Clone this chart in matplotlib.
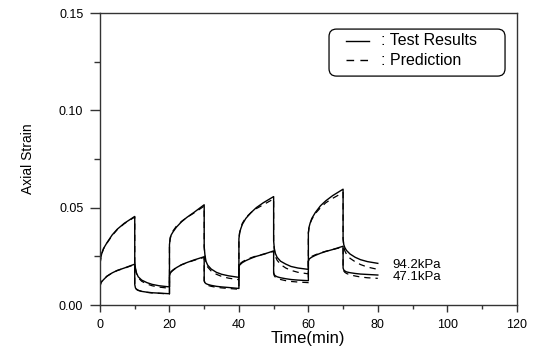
import matplotlib
matplotlib.use("Agg")
import matplotlib.pyplot as plt
import numpy as np
from matplotlib.lines import Line2D
from matplotlib.patches import FancyBboxPatch
from matplotlib.ticker import MultipleLocator, FormatStrFormatter

plt.rcParams['font.family'] = ['Liberation Sans', 'DejaVu Sans']

# time offsets inside each 10-min load / unload stage
offsets = [0, 0.2, 0.5, 1, 2, 3.5, 5, 7, 10]
stage_starts = [0, 10, 20, 30, 40, 50, 60, 70]

# 94.2 kPa, test results (one row per stage)
test_94 = [
    [0.021, 0.024, 0.0265, 0.029, 0.032, 0.036, 0.039, 0.042, 0.0455],
    [0.022, 0.019, 0.0165, 0.0145, 0.0128, 0.0115, 0.0106, 0.0099, 0.0093],
    [0.031, 0.034, 0.036, 0.0375, 0.040, 0.0428, 0.045, 0.0475, 0.0515],
    [0.030, 0.026, 0.0225, 0.0205, 0.0185, 0.0168, 0.0158, 0.015, 0.0142],
    [0.034, 0.037, 0.039, 0.0415, 0.0445, 0.0475, 0.050, 0.0525, 0.0557],
    [0.033, 0.029, 0.0265, 0.0245, 0.0225, 0.021, 0.0198, 0.019, 0.0183],
    [0.037, 0.040, 0.042, 0.0445, 0.0475, 0.051, 0.0535, 0.0562, 0.0595],
    [0.034, 0.031, 0.0295, 0.028, 0.0262, 0.0245, 0.0233, 0.0223, 0.0214],
]
# 94.2 kPa, prediction
pred_94 = [
    [0.021, 0.0238, 0.0263, 0.0288, 0.0318, 0.0357, 0.0388, 0.0418, 0.0452],
    [0.022, 0.0185, 0.016, 0.014, 0.0122, 0.0108, 0.0099, 0.0092, 0.0086],
    [0.031, 0.0345, 0.0365, 0.038, 0.0405, 0.043, 0.045, 0.0472, 0.0508],
    [0.030, 0.025, 0.0215, 0.0195, 0.0175, 0.0158, 0.0147, 0.0138, 0.013],
    [0.034, 0.037, 0.0395, 0.042, 0.045, 0.0475, 0.0495, 0.0515, 0.0545],
    [0.033, 0.028, 0.025, 0.023, 0.0208, 0.019, 0.0178, 0.0168, 0.016],
    [0.037, 0.040, 0.042, 0.044, 0.047, 0.050, 0.0525, 0.0548, 0.0578],
    [0.034, 0.030, 0.0278, 0.026, 0.024, 0.0222, 0.0208, 0.0195, 0.0183],
]
# 47.1 kPa, test results
test_47 = [
    [0.0095, 0.011, 0.012, 0.013, 0.0148, 0.0165, 0.0178, 0.019, 0.021],
    [0.0105, 0.0088, 0.008, 0.0075, 0.007, 0.0066, 0.0063, 0.0061, 0.0058],
    [0.015, 0.0162, 0.017, 0.0178, 0.0192, 0.0207, 0.0218, 0.0231, 0.0248],
    [0.0125, 0.0115, 0.011, 0.0106, 0.0101, 0.0096, 0.0093, 0.009, 0.0085],
    [0.0195, 0.0205, 0.021, 0.0218, 0.0228, 0.024, 0.025, 0.026, 0.0278],
    [0.0165, 0.0155, 0.015, 0.0145, 0.014, 0.0135, 0.0131, 0.0128, 0.0125],
    [0.0225, 0.0235, 0.024, 0.0246, 0.0255, 0.0266, 0.0275, 0.0285, 0.0302],
    [0.019, 0.018, 0.0175, 0.017, 0.0166, 0.0162, 0.0159, 0.0157, 0.0154],
]
# 47.1 kPa, prediction
pred_47 = [
    [0.0095, 0.0112, 0.0122, 0.0132, 0.0148, 0.0165, 0.0177, 0.0189, 0.0208],
    [0.0105, 0.009, 0.0082, 0.0076, 0.007, 0.0065, 0.0062, 0.006, 0.0057],
    [0.015, 0.0165, 0.0172, 0.018, 0.0193, 0.0207, 0.0217, 0.0229, 0.0245],
    [0.0125, 0.0112, 0.0106, 0.0101, 0.0096, 0.0091, 0.0088, 0.0085, 0.0081],
    [0.0195, 0.0208, 0.0215, 0.0222, 0.0232, 0.0243, 0.0252, 0.0261, 0.0275],
    [0.0165, 0.015, 0.0143, 0.0137, 0.0131, 0.0125, 0.0121, 0.0118, 0.0115],
    [0.0225, 0.0238, 0.0244, 0.025, 0.0258, 0.0268, 0.0276, 0.0285, 0.0298],
    [0.019, 0.0175, 0.0168, 0.0162, 0.0155, 0.0149, 0.0144, 0.014, 0.0137],
]

curve_labels = ['94.2kPa', '47.1kPa']
legend_labels = [': Test Results', ': Prediction']


def stitch(rows):
    t = np.concatenate([s + np.array(offsets) for s in stage_starts])
    y = np.concatenate([np.array(r) for r in rows])
    return t, y


fig = plt.figure(figsize=(5.36, 3.47), dpi=100)
ax = fig.add_axes([0.1866, 0.121, 0.7774, 0.8415])

dash = (0, (5, 4))
for rows in (test_94, test_47):
    t, y = stitch(rows)
    ax.plot(t, y, color='black', lw=1.0, ls='-')
for rows in (pred_94, pred_47):
    t, y = stitch(rows)
    ax.plot(t, y, color='black', lw=0.9, ls=dash)

ax.set_xlim(0, 120)
ax.set_ylim(0, 0.15)
ax.xaxis.set_major_locator(MultipleLocator(20))
ax.xaxis.set_minor_locator(MultipleLocator(10))
ax.yaxis.set_major_locator(MultipleLocator(0.05))
ax.yaxis.set_minor_locator(MultipleLocator(0.025))
ax.yaxis.set_major_formatter(FormatStrFormatter('%.2f'))
ax.tick_params(which='both', direction='out', labelsize=9, color='#333333', width=1)
ax.tick_params(axis='x', which='major', length=5, pad=5)
ax.tick_params(axis='x', which='minor', length=3)
ax.tick_params(axis='y', which='major', length=7, pad=5)
ax.tick_params(axis='y', which='minor', length=4)
for sp in ax.spines.values():
    sp.set_color('#333333')
    sp.set_linewidth(1)

ax.set_xlabel('Time(min)', fontsize=12, labelpad=0)
ax.set_ylabel('Axial Strain', fontsize=10, labelpad=17)

ax.text(84.2, 0.0205, curve_labels[0], fontsize=9.5, va='center')
ax.text(84.2, 0.0142, curve_labels[1], fontsize=9.5, va='center')

# legend box drawn in axes fraction
asp = 416.7 / 292.0
box = FancyBboxPatch((0.5496, 0.784), 0.4224, 0.161, transform=ax.transAxes,
                     boxstyle='round,pad=0,rounding_size=0.018',
                     mutation_aspect=asp, facecolor='white',
                     edgecolor='black', lw=0.9, zorder=5)
ax.add_patch(box)
ax.add_line(Line2D([0.590, 0.645], [0.905, 0.905], transform=ax.transAxes,
                   color='black', lw=1.0, zorder=6))
ax.add_line(Line2D([0.590, 0.645], [0.839, 0.839], transform=ax.transAxes,
                   color='black', lw=1.0, ls=(0, (5.5, 4.5)), zorder=6))
ax.text(0.674, 0.905, legend_labels[0], transform=ax.transAxes, fontsize=11.5,
        va='center', zorder=6)
ax.text(0.674, 0.839, legend_labels[1], transform=ax.transAxes, fontsize=11.5,
        va='center', zorder=6)

fig.savefig('out.png', dpi=100)
